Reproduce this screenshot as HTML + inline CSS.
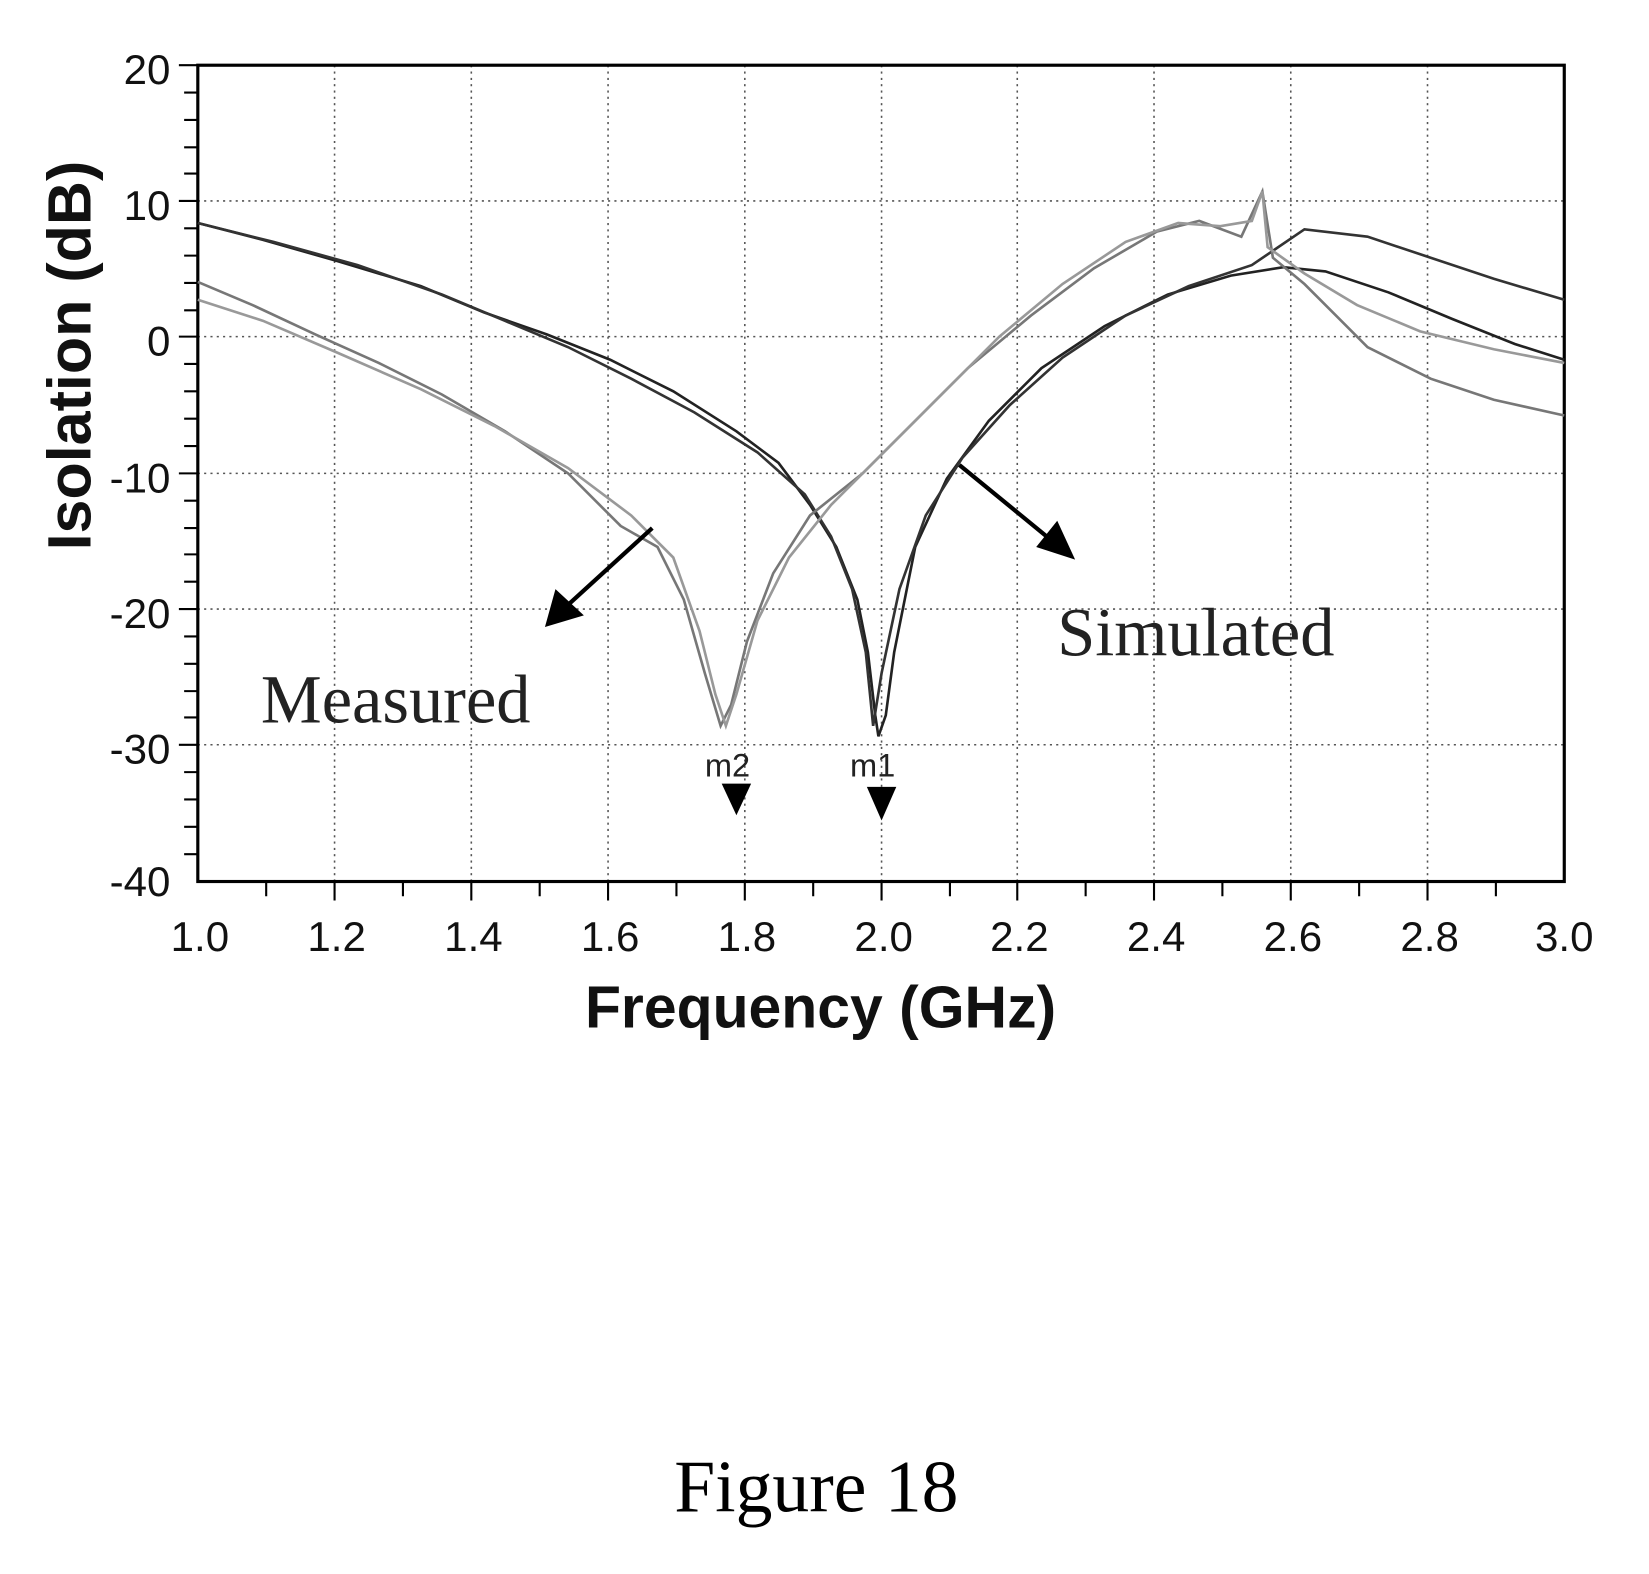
<!DOCTYPE html>
<html><head><style>body{margin:0;background:#fff}svg{display:block}</style></head>
<body>
<svg width="1649" height="1574" viewBox="0 0 1567.5 1496.3" xmlns="http://www.w3.org/2000/svg">
<rect width="1567.5" height="1496.3" fill="#fff"/>
<g stroke="#555" stroke-width="1.5" stroke-dasharray="2,4">
<line x1="318" y1="62" x2="318" y2="838"/><line x1="448" y1="62" x2="448" y2="838"/><line x1="578" y1="62" x2="578" y2="838"/><line x1="708" y1="62" x2="708" y2="838"/><line x1="838" y1="62" x2="838" y2="838"/><line x1="967" y1="62" x2="967" y2="838"/><line x1="1097" y1="62" x2="1097" y2="838"/><line x1="1227" y1="62" x2="1227" y2="838"/><line x1="1357" y1="62" x2="1357" y2="838"/>
<line x1="188" y1="191" x2="1487" y2="191"/><line x1="188" y1="320" x2="1487" y2="320"/><line x1="188" y1="450" x2="1487" y2="450"/><line x1="188" y1="579" x2="1487" y2="579"/><line x1="188" y1="708" x2="1487" y2="708"/>
</g>
<g stroke="#000" stroke-width="2">
<path d="M175 88H188M175 114H188M175 140H188M175 165H188M175 217H188M175 243H188M175 269H188M175 295H188M175 346H188M175 372H188M175 398H188M175 424H188M175 476H188M175 502H188M175 527H188M175 553H188M175 605H188M175 631H188M175 657H188M175 682H188M175 734H188M175 760H188M175 786H188M175 812H188"/>
<path d="M253 838V852M383 838V852M513 838V852M643 838V852M773 838V852M903 838V852M1032 838V852M1162 838V852M1292 838V852M1422 838V852"/>
<path d="M170 62H188M170 191H188M170 320H188M170 450H188M170 579H188M170 708H188M318 838V856M448 838V856M578 838V856M708 838V856M838 838V856M967 838V856M1097 838V856M1227 838V856M1357 838V856"/>
</g>
<rect x="188" y="62" width="1299" height="776" fill="none" stroke="#000" stroke-width="3"/>
<g fill="none" stroke-width="2.5">
<path stroke="#222" d="M188 212L250 228L320 248L400 272L460 297L520 318L580 342L640 372L700 410L740 440L770 480L795 520L815 570L825 620L832 680L835 700L842 680L850 620L870 520L900 455L940 400L990 350L1050 310L1110 280L1170 262L1220 254L1260 258L1320 278L1380 303L1440 327L1487 342"/>
<path stroke="#333" d="M188 212L260 230L340 252L420 280L480 305L540 330L600 360L660 392L720 430L765 470L790 510L810 560L823 620L830 690L838 640L855 560L880 490L915 435L960 385L1010 340L1070 300L1130 272L1190 252L1240 218L1300 225L1360 245L1420 265L1487 285"/>
<path stroke="#777" d="M188 268L240 290L300 318L360 345L420 375L480 410L540 450L590 500L625 520L650 570L670 640L685 690L695 670L710 610L735 545L770 490L820 450L870 400L920 350L980 300L1040 255L1100 220L1140 210L1180 225L1200 182L1210 245L1240 270L1270 300L1300 330L1360 360L1420 380L1487 395"/>
<path stroke="#999" d="M188 285L250 305L320 335L400 370L470 405L540 445L600 490L640 530L665 600L680 660L690 690L700 660L720 590L750 530L790 480L840 430L890 380L950 320L1010 270L1070 230L1120 212L1160 215L1190 210L1200 182L1205 235L1240 260L1290 290L1350 315L1420 332L1487 345"/>
</g>
<g stroke="#000" stroke-width="4"><line x1="620" y1="502" x2="540" y2="575"/><line x1="912" y1="442" x2="995" y2="510"/></g>
<polygon points="518,596 528,560 555,585" fill="#000"/>
<polygon points="1022,532 985,520 1005,495" fill="#000"/>
<polygon points="686,745 714,745 700,775" fill="#000"/>
<polygon points="824,748 852,748 838,780" fill="#000"/>
<g font-family="Liberation Sans, sans-serif" font-size="31" fill="#222"><text x="670" y="738">m2</text><text x="808" y="738">m1</text></g>
<g font-family="Liberation Serif, serif" font-size="65" fill="#222"><text x="248" y="687">Measured</text><text x="1005" y="623">Simulated</text></g>
<g font-family="Liberation Sans, sans-serif" font-size="40" text-anchor="end" fill="#111"><text x="162" y="80">20</text><text x="162" y="209">10</text><text x="162" y="338">0</text><text x="162" y="468">-10</text><text x="162" y="597">-20</text><text x="162" y="726">-30</text><text x="162" y="852">-40</text></g>
<g font-family="Liberation Sans, sans-serif" font-size="40" text-anchor="middle" fill="#111"><text x="190" y="904">1.0</text><text x="320" y="904">1.2</text><text x="450" y="904">1.4</text><text x="580" y="904">1.6</text><text x="710" y="904">1.8</text><text x="840" y="904">2.0</text><text x="969" y="904">2.2</text><text x="1099" y="904">2.4</text><text x="1229" y="904">2.6</text><text x="1359" y="904">2.8</text><text x="1487" y="904">3.0</text></g>
<text x="780" y="977" font-family="Liberation Sans, sans-serif" font-size="56" font-weight="bold" text-anchor="middle" fill="#111">Frequency (GHz)</text>
<text transform="translate(86,338) rotate(-90)" font-family="Liberation Sans, sans-serif" font-size="58" font-weight="bold" text-anchor="middle" fill="#111">Isolation (dB)</text>
<text x="776" y="1437" font-family="Liberation Serif, serif" font-size="70" text-anchor="middle" fill="#000">Figure 18</text>
</svg>
</body></html>
